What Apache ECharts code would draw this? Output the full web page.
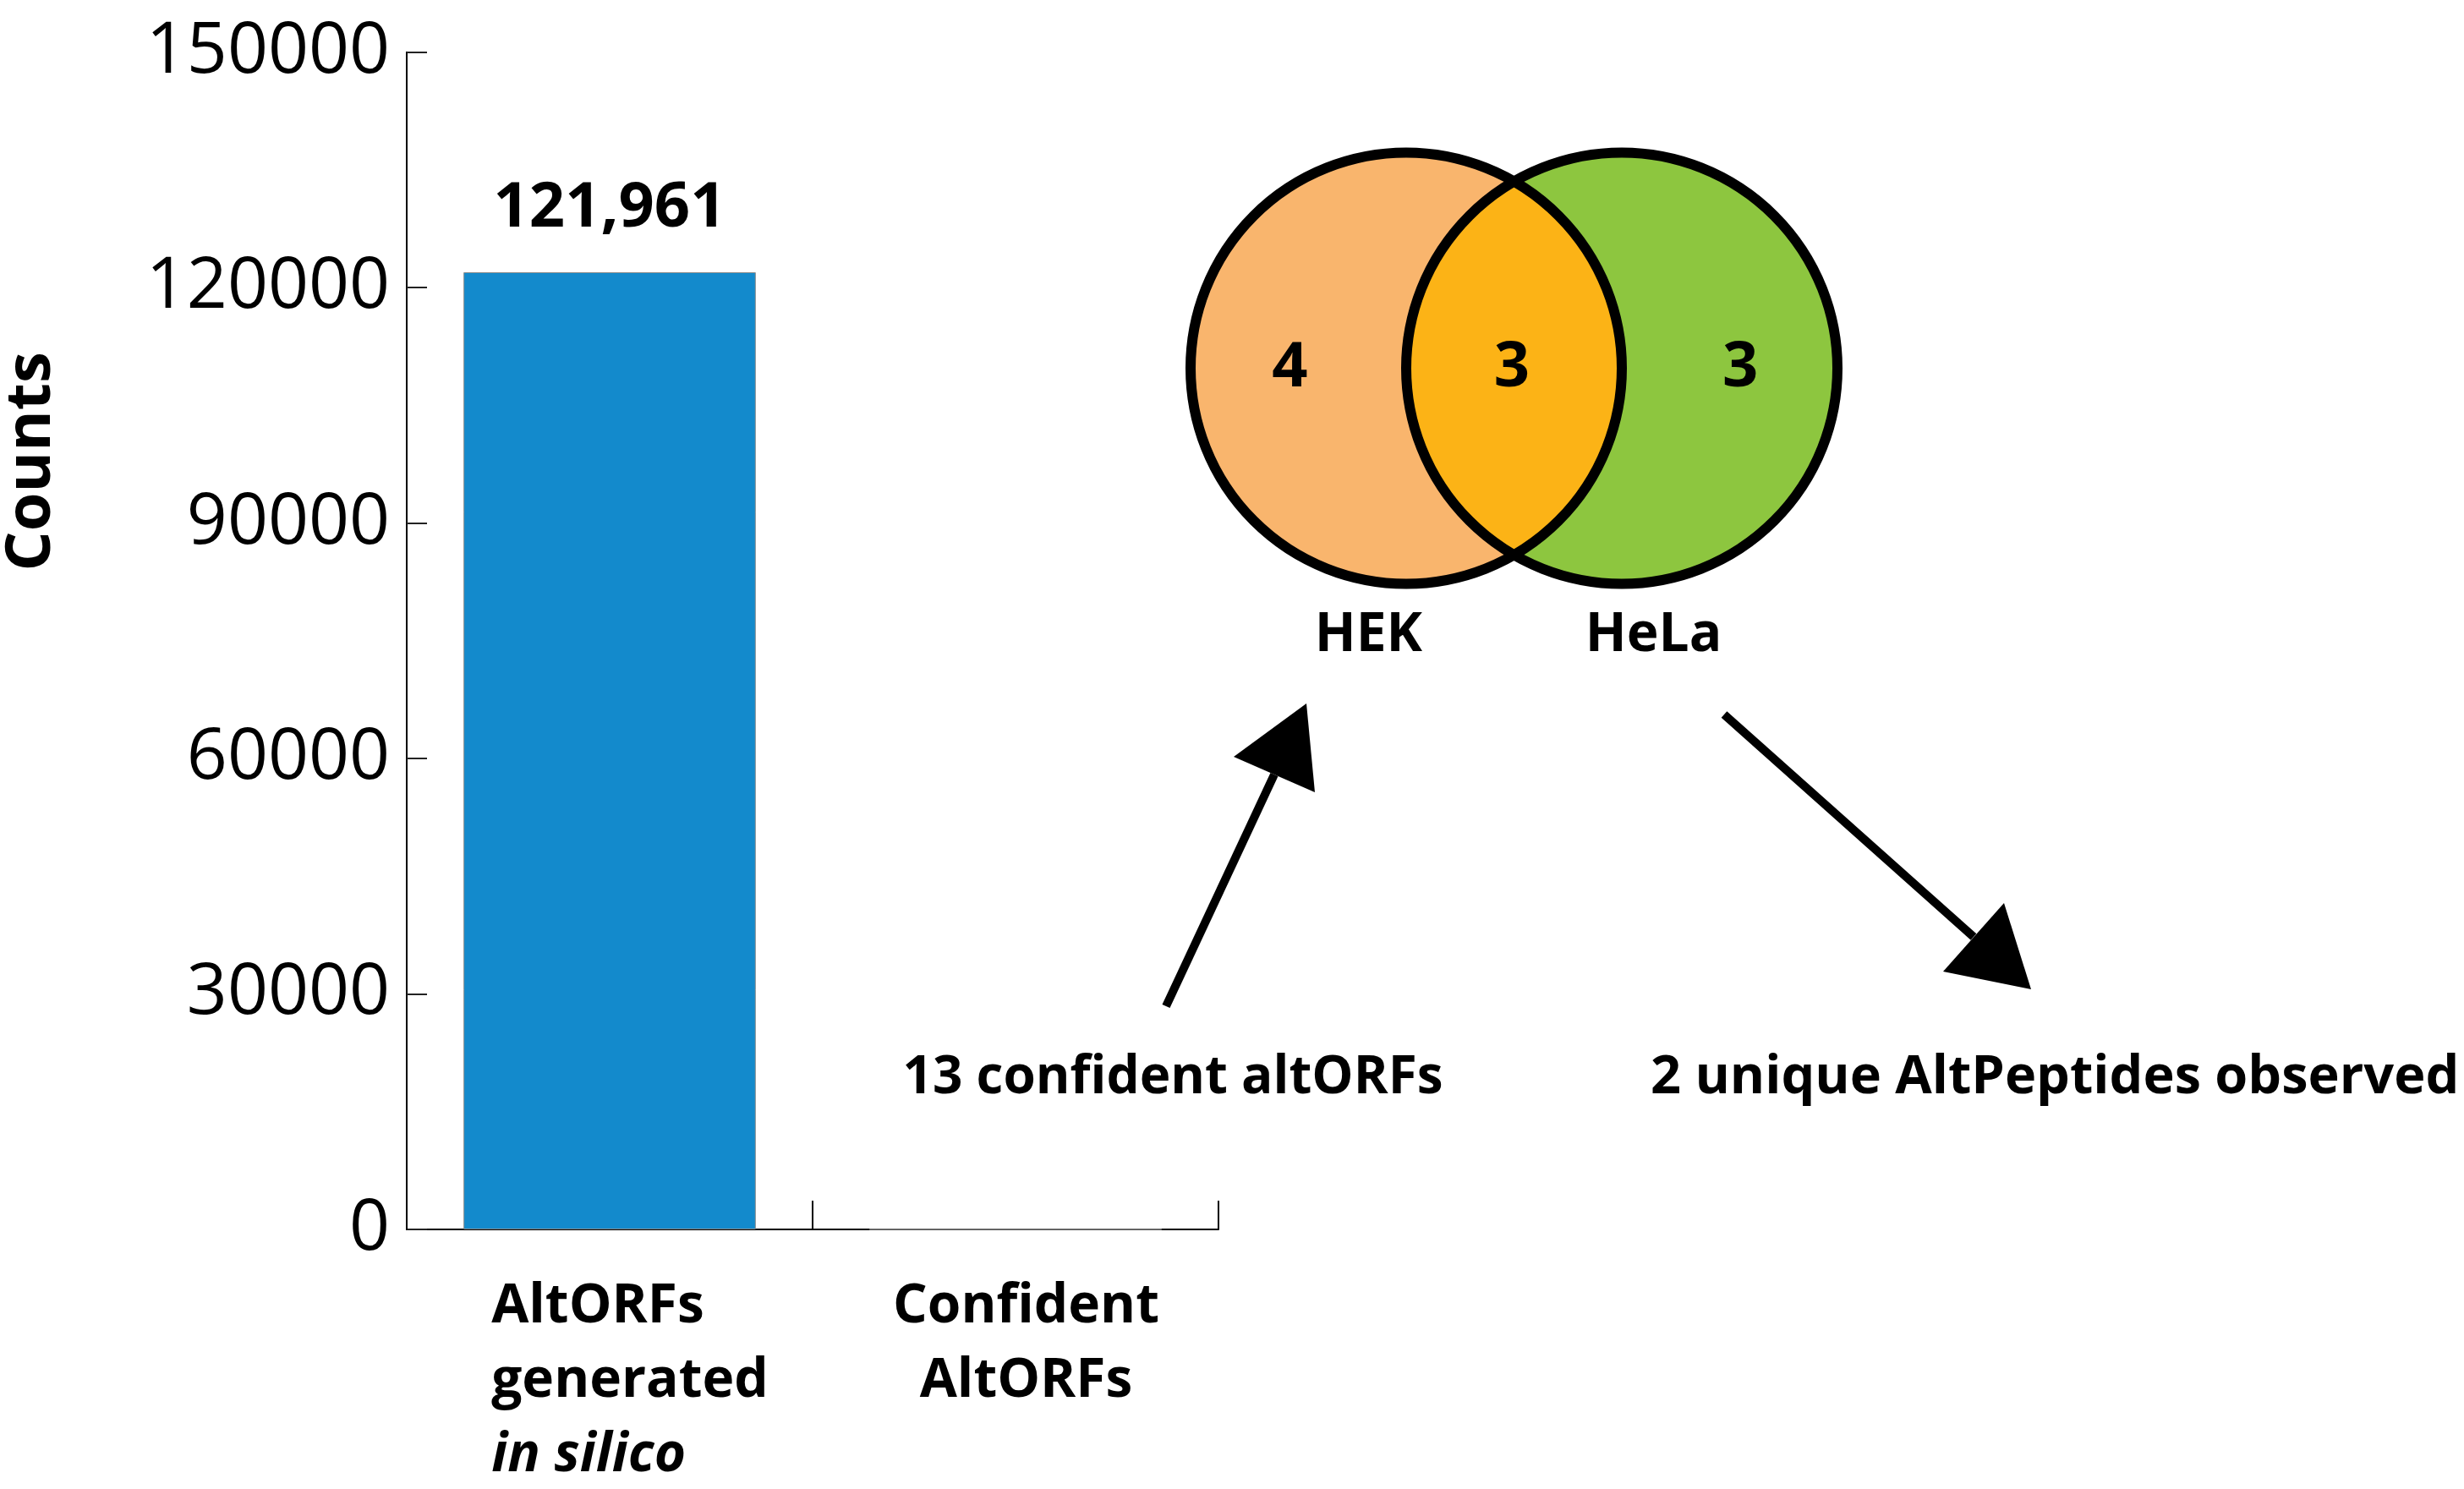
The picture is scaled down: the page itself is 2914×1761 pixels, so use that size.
<!DOCTYPE html>
<html><head><meta charset="utf-8">
<script src="https://cdn.jsdelivr.net/npm/echarts@6/dist/echarts.min.js"></script>
<style>html,body{margin:0;padding:0;background:#fff}#c{width:2914px;height:1761px}</style>
</head><body><div id="c"></div>
<script>
// ---- data ----
const categories = ['AltORFs\ngenerated\nin silico', 'Confident\nAltORFs'];
const counts = [121961, 13];
const yTicks = [0, 30000, 60000, 90000, 120000, 150000];
const yTitle = 'Counts';
const vennSets = ['HEK', 'HeLa'];
const vennCounts = [4, 3, 3]; // HEK only, shared, HeLa only
const annotations = ['13 confident altORFs', '2 unique AltPeptides observed'];

const FONT = 'Open Sans';
const chart = echarts.init(document.getElementById('c'));

function catLabel(value, idx) {
  const lines = value.split('\n');
  const style = idx === 0 ? 'l' : 'c';
  return lines.map(t => (t === 'in silico' ? '{i|' + t + '}' : '{' + style + '|' + t + '}')).join('\n');
}

const COL = { hek: '#F9B56D', both: '#FCB316', hela: '#8DC63F' };

const option = {
  backgroundColor: '#fff',
  animation: false,
  textStyle: { fontFamily: FONT },
  grid: [
    { left: 480, top: 61.7, width: 961, height: 1392.3 },
    { left: 1408, top: 180.5, width: 765, height: 510 }
  ],
  xAxis: [
    {
      gridIndex: 0, type: 'category', boundaryGap: true,
      data: categories.map((c, i) => ({ value: c, textStyle: { padding: [0, 0, 0, i === 0 ? 48 : 25] } })),
      axisLine: { show: true, lineStyle: { color: '#000', width: 2 } },
      axisTick: { show: true, inside: true, length: 34, lineStyle: { color: '#000', width: 2 } },
      axisLabel: {
        margin: 48, formatter: catLabel, align: 'center',
        rich: {
          l: { fontFamily: FONT, fontWeight: 'bold', fontSize: 64, lineHeight: 88, color: '#000', align: 'left' },
          c: { fontFamily: FONT, fontWeight: 'bold', fontSize: 64, lineHeight: 88, color: '#000', align: 'center' },
          i: { fontFamily: FONT, fontWeight: 'bold', fontStyle: 'italic', fontSize: 64, lineHeight: 88, color: '#000', align: 'left' }
        }
      },
      splitLine: { show: false }
    },
    { gridIndex: 1, type: 'value', min: -1, max: 2, show: false }
  ],
  yAxis: [
    {
      gridIndex: 0, type: 'value', min: yTicks[0], max: yTicks[yTicks.length - 1], interval: yTicks[1] - yTicks[0],
      name: yTitle, nameLocation: 'middle', nameRotate: 90, nameGap: 406,
      nameTextStyle: { fontFamily: FONT, fontWeight: 'bold', fontSize: 74, color: '#000', padding: [0, 0, 0, 424] },
      axisLine: { show: true, lineStyle: { color: '#000', width: 2 } },
      axisTick: { show: true, inside: true, length: 24, lineStyle: { color: '#222', width: 2 } },
      axisLabel: { margin: 20, fontFamily: FONT, fontSize: 84, color: '#000', padding: [0, 0, 30, 0], formatter: v => String(v) },
      splitLine: { show: false }
    },
    { gridIndex: 1, type: 'value', min: -1, max: 1, inverse: true, show: false }
  ],
  series: [
    {
      type: 'bar', xAxisIndex: 0, yAxisIndex: 0, barWidth: '72%',
      itemStyle: { color: '#138ACC', borderColor: '#8a8a8a', borderWidth: 1 },
      data: counts.map((v, i) => ({
        value: v,
        label: {
          show: i === 0, position: 'top', distance: 38,
          fontFamily: FONT, fontWeight: 'bold', fontSize: 74, color: '#000',
          formatter: p => p.value.toLocaleString('en-US')
        }
      }))
    },
    {
      type: 'custom', xAxisIndex: 1, yAxisIndex: 1, coordinateSystem: 'cartesian2d',
      data: [[0, 0]],
      renderItem: function (params, api) {
        const c0 = api.coord([0, 0]);
        const c1 = api.coord([1, 0]);
        const r = api.size([1, 0])[0];
        const d = c1[0] - c0[0];
        const a = d / 2, h = Math.sqrt(r * r - a * a);
        const mx = c0[0] + a, my = c0[1];
        const lens = 'M' + mx + ' ' + (my - h) + ' A' + r + ' ' + r + ' 0 0 1 ' + mx + ' ' + (my + h) +
          ' A' + r + ' ' + r + ' 0 0 1 ' + mx + ' ' + (my - h) + ' Z';
        const numPos = [api.coord([-0.54, 0]), api.coord([0.49, 0]), api.coord([1.55, 0])];
        const setPos = [api.coord([-0.175, 1.24]), api.coord([1.147, 1.24])];
        const children = [
          { type: 'circle', shape: { cx: c0[0], cy: c0[1], r: r }, style: { fill: COL.hek } },
          { type: 'circle', shape: { cx: c1[0], cy: c1[1], r: r }, style: { fill: COL.hela } },
          { type: 'path', shape: { pathData: lens }, style: { fill: COL.both } },
          { type: 'circle', shape: { cx: c0[0], cy: c0[1], r: r }, style: { fill: 'none', stroke: '#000', lineWidth: 12 } },
          { type: 'circle', shape: { cx: c1[0], cy: c1[1], r: r }, style: { fill: 'none', stroke: '#000', lineWidth: 12 } }
        ];
        vennCounts.forEach((v, i) => children.push({
          type: 'text', x: numPos[i][0], y: numPos[i][1],
          style: { text: String(v), fontFamily: FONT, fontWeight: 'bold', fontSize: 74, fill: '#000', align: 'center', verticalAlign: 'middle' }
        }));
        vennSets.forEach((s, i) => children.push({
          type: 'text', x: setPos[i][0], y: setPos[i][1],
          style: { text: s, fontFamily: FONT, fontWeight: 'bold', fontSize: 64, fill: '#000', align: 'center', verticalAlign: 'middle' }
        }));
        return { type: 'group', children: children };
      }
    }
  ],
  graphic: [
    { type: 'line', shape: { x1: 1379, y1: 1190, x2: 1507, y2: 916 }, style: { stroke: '#000', lineWidth: 10 } },
    { type: 'polygon', shape: { points: [[1545, 832], [1459, 895], [1555, 937]] }, style: { fill: '#000' } },
    { type: 'line', shape: { x1: 2039, y1: 845, x2: 2334, y2: 1108 }, style: { stroke: '#000', lineWidth: 10 } },
    { type: 'polygon', shape: { points: [[2402, 1170], [2298, 1149], [2370, 1068]] }, style: { fill: '#000' } },
    { type: 'text', x: 1387, y: 1275, style: { text: annotations[0], fontFamily: FONT, fontWeight: 'bold', fontSize: 62, fill: '#000', align: 'center', verticalAlign: 'middle' } },
    { type: 'text', x: 1952, y: 1275, style: { text: annotations[1], fontFamily: FONT, fontWeight: 'bold', fontSize: 63, fill: '#000', align: 'left', verticalAlign: 'middle' } }
  ]
};
chart.setOption(option);
</script>
</body></html>
